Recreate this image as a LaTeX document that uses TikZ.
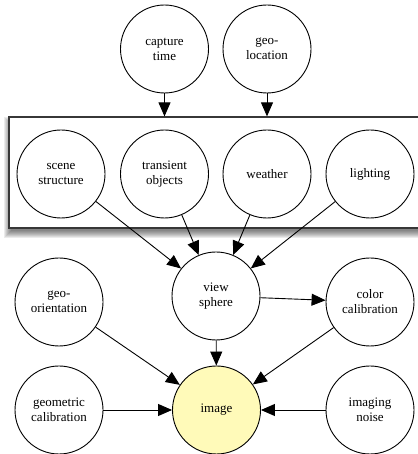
\documentclass[tikz,border=0pt]{standalone}
\usepackage{fontspec}
\setmainfont{Liberation Serif}
\usetikzlibrary{arrows.meta, calc, backgrounds}
\definecolor{imgyellow}{RGB}{255, 250, 185}
\definecolor{boxgray}{RGB}{55, 55, 55}

\tikzset{
    var/.style={circle, draw=black, line width=0.9pt, fill=white,
        minimum size=88pt, inner sep=0pt, align=center,
        font=\fontsize{13}{15}\selectfont},
    dep/.style={-{Triangle[length=14pt, width=12pt]}, line width=0.9pt},
}

\begin{document}
\begin{tikzpicture}[x=1pt, y=1pt]
\useasboundingbox (0,0) rectangle (417,454);

% === Caja del entorno (con sombra) ===
\node[draw=boxgray, line width=1.2pt, fill=white, inner sep=0pt,
      minimum width=411pt, minimum height=111pt] (envbox) at (214.5,281.5) {};
\begin{scope}[on background layer]
    \foreach \d in {0,...,7} {
        \fill[black, opacity=0.08]
            ($(envbox.south west)+(3-\d,-2-\d)$) rectangle ($(envbox.north east)+(-3+\d,-8+\d)$);
    }
\end{scope}

% Variables de arriba
\node[var] (capture) at (164.5,405) {capture\\time};
\node[var] (geoloc) at (267,405) {geo-\\location};

% Variables dentro de la caja
\node[var] (scene) at (61,280) {scene\\structure};
\node[var] (transient) at (164.5,280) {transient\\objects};
\node[var] (weather) at (267,280) {weather};
\node[var] (lighting) at (370,280) {lighting};

% Variables de abajo
\node[var] (viewsph) at (216,158) {view\\sphere};
\node[var] (geoorient) at (59,152) {geo-\\orientation};
\node[var] (colorcal) at (370,152) {color\\calibration};
\node[var, fill=imgyellow] (image) at (216.5,44) {image};
\node[var] (geomcal) at (59,44) {geometric\\calibration};
\node[var] (noise) at (370,44) {imaging\\noise};

% Aristas
\draw[dep] (capture) -- (capture |- envbox.north);
\draw[dep] (geoloc) -- (geoloc |- envbox.north);
\foreach \n in {scene, transient, weather, lighting} {
    \draw[dep] (\n) -- (viewsph);
}
\draw[dep] (viewsph) -- (colorcal);
\foreach \n in {viewsph, geoorient, colorcal, geomcal, noise} {
    \draw[dep] (\n) -- (image);
}

\end{tikzpicture}
\end{document}
